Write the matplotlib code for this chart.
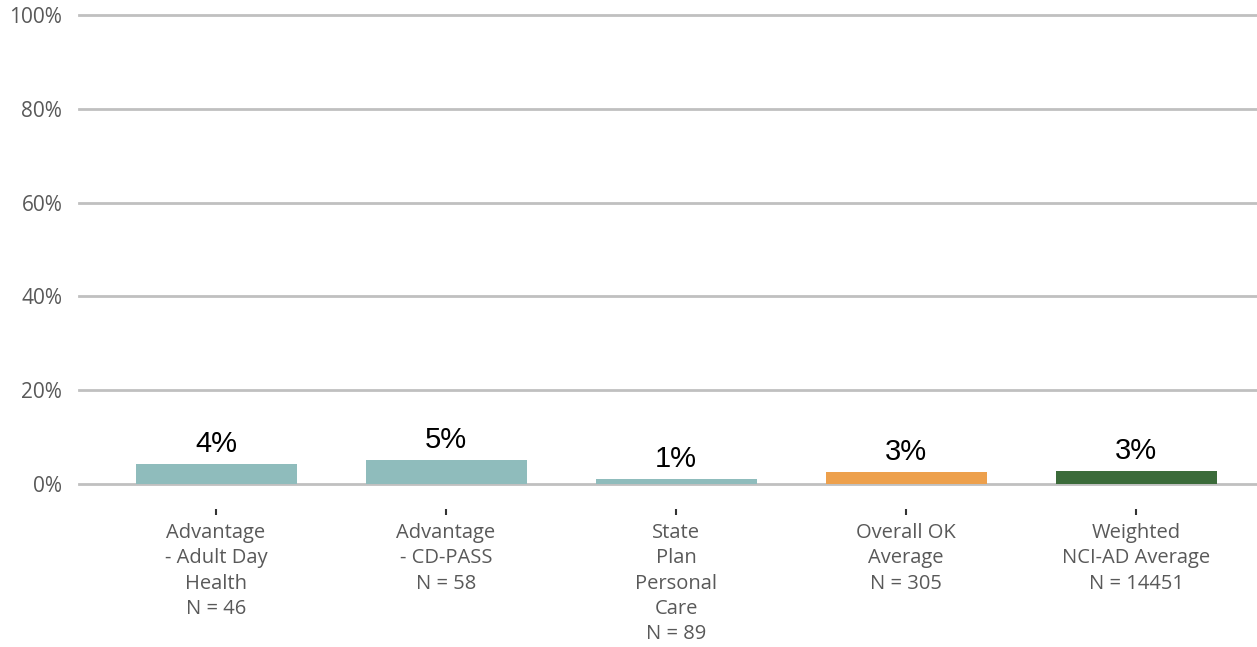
import matplotlib
matplotlib.use("Agg")
import matplotlib.pyplot as plt
import numpy as np

categories = ["Advantage\n- Adult Day\nHealth\nN = 46",
              "Advantage\n- CD-PASS\nN = 58",
              "State\nPlan\nPersonal\nCare\nN = 89",
              "Overall OK\nAverage\nN = 305",
              "Weighted\nNCI-AD Average\nN = 14451"]
values = [4.3, 5.2, 1.1, 2.6, 2.8]
colors = ["#8fbcbc", "#8fbcbc", "#8fbcbc", "#eda04c", "#3b6b3a"]
yticks = [0, 20, 40, 60, 80, 100]

fig = plt.figure(figsize=(12.57, 6.47), dpi=100)
ax = fig.add_axes([0.0628, 0.252, 0.9372, 0.725])

x = np.arange(len(values))
ax.bar(x, values, width=0.7, color=colors, zorder=3)

for xi, v in zip(x, values):
    ax.annotate(f"{v:.0f}%", (xi, v), xytext=(0, 4), textcoords="offset points",
                ha="center", va="bottom", fontsize=21, family="Liberation Sans",
                color="black")

ax.set_ylim(0, 100)
ax.set_xlim(-0.596, 4.526)

for s in ["top", "right", "left"]:
    ax.spines[s].set_visible(False)
ax.spines["bottom"].set_position(("outward", 18))
ax.spines["bottom"].set_visible(False)

ax.tick_params(axis="y", length=0, pad=12)
ax.tick_params(axis="x", length=4.5, width=1.5, color="#333333", direction="out", pad=5.5)

ax.set_yticks(yticks)
ax.set_yticklabels([f"{t}%" for t in yticks], family="Open Sans", fontsize=15,
                   color="#595959")
ax.yaxis.grid(True, color="#c0c0c0", linewidth=2, zorder=0)
for gl in ax.get_ygridlines():
    gl.set_clip_on(False)

ax.set_xticks(x)
ax.set_xticklabels(categories, family="Open Sans", fontsize=14.5, color="#595959",
                   linespacing=1.36)

fig.savefig("out.png", dpi=100)
